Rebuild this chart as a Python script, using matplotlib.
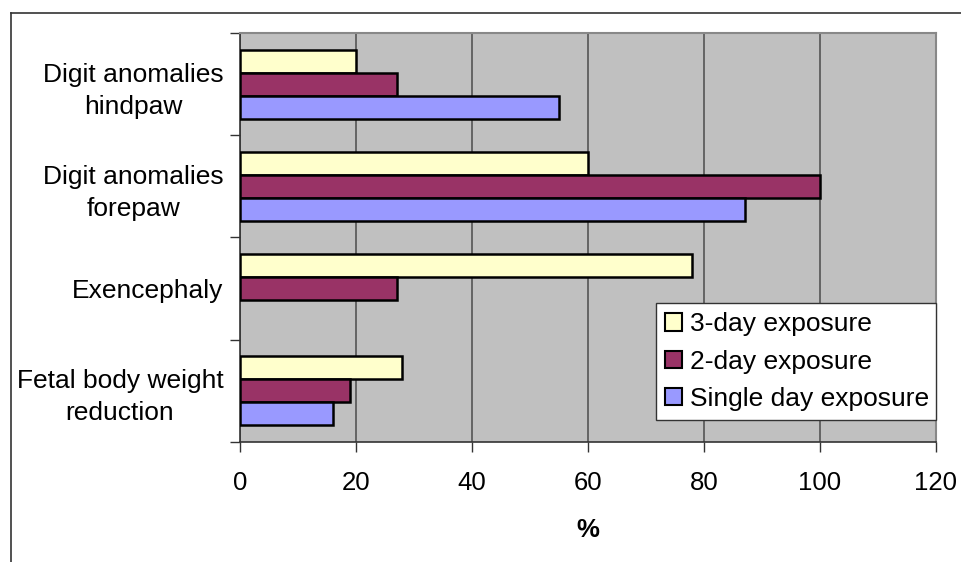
import matplotlib
matplotlib.use("Agg")
import matplotlib.pyplot as plt
from matplotlib.lines import Line2D
import numpy as np

plt.rcParams['font.family'] = ['Liberation Sans', 'DejaVu Sans']

# categories listed bottom-to-top as drawn on the y axis
categories = ["Fetal body weight\nreduction", "Exencephaly",
              "Digit anomalies\nforepaw", "Digit anomalies\nhindpaw"]
three_day = [28, 78, 60, 20]
two_day = [19, 27, 100, 27]
single_day = [16, 0, 87, 55]
series_names = ["3-day exposure", "2-day exposure", "Single day exposure"]
series_colors = ["#FFFFCC", "#993366", "#9999FF"]
x_ticks = [0, 20, 40, 60, 80, 100, 120]

FS = 19

fig = plt.figure(figsize=(9.62, 5.62), dpi=100)
ax = fig.add_axes([240 / 962, 1 - 441.7 / 562, 696 / 962, 408.7 / 562])
ax.set_facecolor("#C0C0C0")

y = np.arange(len(categories))
h = 0.225
series_vals = [three_day, two_day, single_day]
offsets = [h, 0, -h]
handles = []
for vals, off, col, name in zip(series_vals, offsets, series_colors, series_names):
    b = ax.barh(y + off, vals, height=h, color=col, edgecolor="black",
                linewidth=1.8, label=name, zorder=3)
    for rect, v in zip(b.patches, vals):
        if v == 0:
            rect.set_visible(False)
    handles.append(b)

ax.set_xlim(0, 120)
ax.set_ylim(-0.5, len(categories) - 0.5)
ax.set_xticks(x_ticks)
ax.set_xticklabels([str(t) for t in x_ticks], fontsize=FS - 0.5)
ax.xaxis.grid(True, color="#555555", linewidth=1.2, zorder=1)
ax.set_axisbelow(True)

# category boundary ticks on the y axis, labels at group centres
ax.set_yticks(np.arange(-0.5, len(categories), 1.0))
ax.set_yticklabels([])
ax.set_yticks(y, minor=True)
labels = ax.set_yticklabels(categories, minor=True, fontsize=FS, ha="right",
                            multialignment="center")
for t in labels:
    t.set_linespacing(1.42)
ax.tick_params(axis="y", which="minor", length=0, pad=12)
ax.tick_params(axis="y", which="major", length=7, width=1, color="#333333")
ax.tick_params(axis="x", which="major", length=7, width=1, color="#333333",
               direction="out", pad=14)

for side in ("top", "right"):
    ax.spines[side].set_color("#888888")
    ax.spines[side].set_linewidth(1.5)
for side in ("left", "bottom"):
    ax.spines[side].set_color("#333333")
    ax.spines[side].set_linewidth(1.2)

ax.set_xlabel("%", fontsize=FS - 0.5, fontweight="bold", labelpad=17)

leg = ax.legend(handles=handles, labels=series_names, loc="lower right",
                bbox_to_anchor=(0.5977, 0.053, 0.4023, 0.289), mode="expand",
                fontsize=FS, frameon=True, fancybox=False, borderaxespad=0,
                handlelength=0.65, handleheight=0.65, handletextpad=0.3,
                labelspacing=0.5, borderpad=0.35)
leg.get_frame().set_edgecolor("#333333")
leg.get_frame().set_linewidth(1.0)
leg.get_frame().set_facecolor("white")
leg.get_frame().set_alpha(1)
leg.set_zorder(5)
for p in leg.get_patches():
    p.set_linewidth(1.5)

# outer chart frame (top and left edges visible)
fig.add_artist(Line2D([10.5 / 962, 1.01], [1 - 13 / 562, 1 - 13 / 562],
                      transform=fig.transFigure, color="#333333", linewidth=1.2))
fig.add_artist(Line2D([10.5 / 962, 10.5 / 962], [-0.01, 1 - 13 / 562],
                      transform=fig.transFigure, color="#333333", linewidth=1.2))

fig.savefig("out.png", dpi=100)
